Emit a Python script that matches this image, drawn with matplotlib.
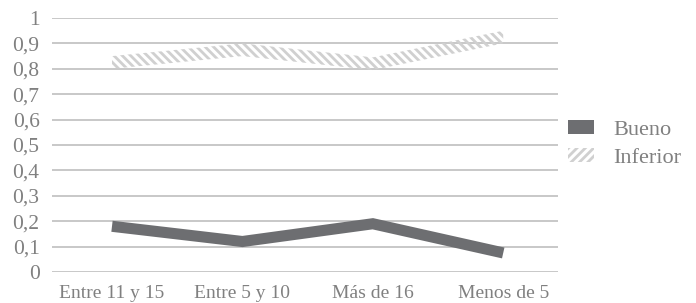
import matplotlib
matplotlib.use("Agg")
import matplotlib.pyplot as plt
from matplotlib.patches import Patch

categories = ["Entre 11 y 15", "Entre 5 y 10", "Más de 16", "Menos de 5"]
bueno = [0.18, 0.12, 0.19, 0.075]
inferior = [0.825, 0.875, 0.82, 0.925]
yticks = [0, 0.1, 0.2, 0.3, 0.4, 0.5, 0.6, 0.7, 0.8, 0.9, 1.0]
ytick_labels = ["0", "0,1", "0,2", "0,3", "0,4", "0,5", "0,6", "0,7", "0,8", "0,9", "1"]

plt.rcParams['font.family'] = ['Liberation Serif', 'DejaVu Serif']
plt.rcParams['hatch.linewidth'] = 2.0
plt.rcParams['hatch.color'] = '#d0d0d0'

text_color = '#808080'
fig = plt.figure(figsize=(6.96, 3.03), dpi=100)
ax = fig.add_axes([52/696, 31/303, 506/696, 254/303])

x = list(range(len(categories)))
ax.plot(x, bueno, color='#6d6e71', linewidth=8, solid_joinstyle='miter', solid_capstyle='butt', zorder=3)
half = 0.025
ax.fill_between(x, [v - half for v in inferior], [v + half for v in inferior],
                facecolor='none', edgecolor='#d0d0d0', hatch='\\\\\\\\', linewidth=0, zorder=3)

ax.set_xlim(-0.46, 3.42)
ax.set_ylim(0, 1)
ax.set_yticks(yticks)
ax.set_yticklabels(ytick_labels)
ax.set_xticks(x)
ax.set_xticklabels(categories)
ax.yaxis.grid(True, color='#bfbfbf', linewidth=1.2)
ax.set_axisbelow(True)
for s in ax.spines.values():
    s.set_visible(False)
ax.tick_params(axis='both', length=0, colors=text_color)
ax.tick_params(axis='y', labelsize=15.5, pad=9)
ax.tick_params(axis='x', labelsize=14, pad=9)

handles = [Patch(facecolor='#6d6e71', edgecolor='none', label='Bueno'),
           Patch(facecolor='none', edgecolor='#d0d0d0', hatch='////', linewidth=0, label='Inferior')]
leg = fig.legend(handles=handles, loc='center left', bbox_to_anchor=(568/696, 159/303),
                 frameon=False, fontsize=16, handlelength=1.15, handleheight=0.6,
                 labelspacing=0.35, handletextpad=0.9, borderpad=0, borderaxespad=0,
                 labelcolor=text_color)

fig.savefig('out.png', dpi=100)
